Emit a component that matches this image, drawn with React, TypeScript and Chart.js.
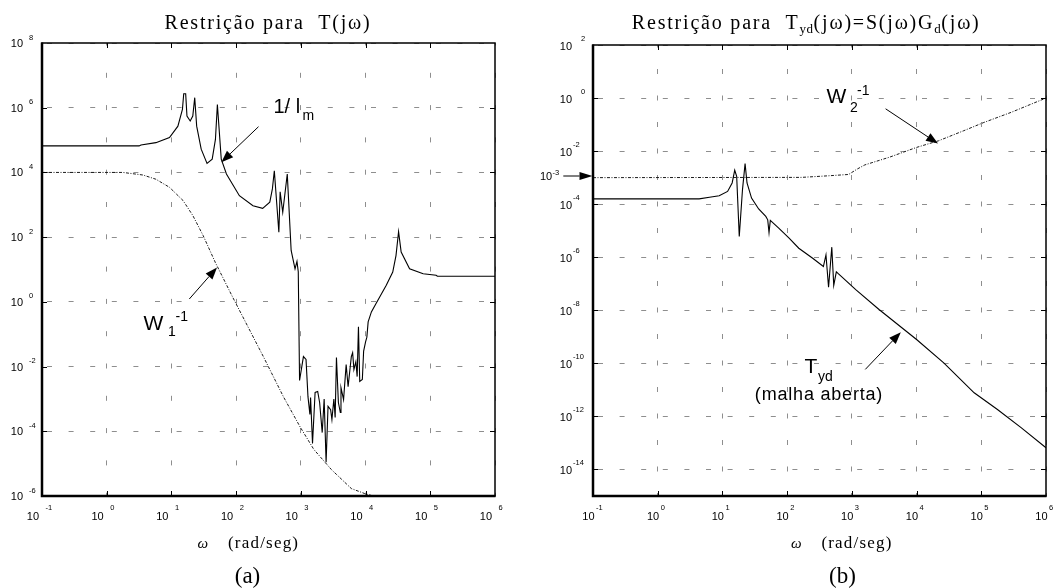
import React, { useEffect, useRef } from 'react';
import { Chart, registerables } from 'chart.js';

Chart.register(...registerables);

const SANS = '"Liberation Sans", Arial, sans-serif';
const SERIF = '"Liberation Serif", "Times New Roman", serif';
const GRID = '#8e8e8e';

// ---------- axis ticks ----------
const xTicks = [1e-1, 1e0, 1e1, 1e2, 1e3, 1e4, 1e5, 1e6];
const xTickExp = ['-1', '0', '1', '2', '3', '4', '5', '6'];
const yTicksA = [1e8, 1e6, 1e4, 1e2, 1e0, 1e-2, 1e-4, 1e-6];
const yTickExpA = ['8', '6', '4', '2', '0', '-2', '-4', '-6'];
const yTicksB = [1e2, 1e0, 1e-2, 1e-4, 1e-6, 1e-8, 1e-10, 1e-12, 1e-14];
const yTickExpB = ['2', '0', '-2', '-4', '-6', '-8', '-10', '-12', '-14'];

// ---------- (a) 1/l_m ----------
const imOmega = [0.1, 3.162, 3.388, 5.754, 9.333, 12.59, 14.79, 15.49, 16.6, 17.38, 19.5, 21.38, 22.91, 24.55, 28.84, 35.48, 42.66, 47.86, 51.29, 58.88, 70.79, 112.2, 182.0, 257.0, 331.1, 363.1, 389.0, 457.1, 478.6, 524.8, 616.6, 707.9, 812.8, 871.0, 912.0, 955.0, 1096, 1202, 1288, 1380, 1413, 1514, 1660, 1820, 1950, 2138, 2291, 2455, 2630, 2884, 3020, 3236, 3388, 3548, 3802, 4074, 4169, 4571, 5012, 5370, 6026, 6310, 6607, 7079, 7413, 7762, 8128, 8913, 9333, 1.0e4, 1.047e4, 1.096e4, 1.23e4, 1.445e4, 2.089e4, 2.63e4, 2.951e4, 3.236e4, 3.548e4, 4.786e4, 7.762e4, 1.23e5, 1.288e5, 1e6];
const imMag = [6.607e4, 6.607e4, 7.079e4, 8.318e4, 1.202e5, 2.692e5, 8.913e5, 2.692e6, 2.692e6, 5.495e5, 3.89e5, 5.495e5, 2.042e6, 2.692e5, 5.248e4, 1.905e4, 2.57e4, 1.047e5, 1.259e6, 2.57e4, 8.913e3, 1.905e3, 933.3, 776.2, 1202, 3090, 1.122e4, 141.3, 2512, 588.8, 8913, 38.9, 10.47, 17.78, 8.511, 3.715e-3, 2.042e-2, 1.66e-2, 1.175e-3, 3.311e-4, 1.096e-3, 4.169e-5, 1.585e-3, 1.698e-3, 7.762e-4, 9.12e-5, 1.0e-3, 1.096e-5, 5.888e-4, 4.677e-4, 2.291e-4, 1.0e-3, 2.692e-4, 1.905e-2, 7.762e-4, 3.802e-4, 2.239e-3, 9.55e-4, 1.148e-2, 2.399e-3, 2.042e-2, 2.692e-2, 8.128e-3, 1.413e-2, 4.898e-3, 0.1698, 3.467e-3, 3.981e-3, 3.02e-2, 5.754e-2, 8.128e-2, 0.2399, 0.4898, 0.871, 3.236, 8.318, 26.92, 147.9, 34.67, 10.47, 7.413, 6.607, 6.166, 6.166];

// ---------- (a) W1^-1 ----------
const w1Omega = [0.1, 1.778, 3.631, 5.754, 9.333, 15.14, 21.38, 30.9, 47.86, 89.13, 263.0, 537.0, 977.2, 1585, 2951, 6026, 9550, 1.318e4];
const w1Mag = [1e4, 1e4, 8.318e3, 6.166e3, 3.467e3, 1.349e3, 467.7, 112.2, 16.22, 1.349, 2.042e-2, 1.175e-3, 1.349e-4, 2.754e-5, 6.607e-6, 1.698e-6, 1.202e-6, 1.0e-6];

// ---------- (b) T_yd (malha aberta) ----------
const tydOmega = [0.1, 4.365, 6.31, 8.913, 12.02, 14.13, 15.49, 16.6, 18.2, 20.42, 22.39, 23.99, 28.18, 36.31, 46.77, 50.12, 52.48, 54.95, 74.13, 107.2, 151.4, 251.2, 363.1, 398.1, 436.5, 489.8, 524.8, 575.4, 616.6, 1148, 2630, 1e4, 2.63e4, 7.762e4, 1.778e5, 4.169e5, 1e6];
const tydMag = [1.585e-4, 1.585e-4, 1.82e-4, 2.089e-4, 3.02e-4, 6.31e-4, 1.905e-3, 1.122e-3, 6.026e-6, 3.548e-4, 3.388e-3, 6.31e-4, 1.698e-4, 6.607e-5, 3.467e-5, 2.57e-5, 8.511e-6, 2.455e-5, 1.259e-5, 5.248e-6, 2.188e-6, 8.913e-7, 4.467e-7, 1.23e-6, 7.413e-8, 2.399e-6, 8.71e-8, 2.818e-7, 2.399e-7, 6.026e-8, 1.072e-8, 7.943e-10, 1.047e-10, 7.762e-12, 1.82e-12, 3.715e-13, 6.607e-14];

// ---------- (b) W2^-1 ----------
const w2Omega = [0.1, 166.0, 436.5, 891.3, 1202, 1585, 3802, 1e4, 2.188e4, 5.37e4, 1.096e5, 2.884e5, 1e6];
const w2Mag = [1e-3, 1.023e-3, 1.175e-3, 1.318e-3, 2.089e-3, 3.020e-3, 5.888e-3, 1.38e-2, 2.455e-2, 5.888e-2, 0.1202, 0.2884, 1.0];

type Part = { t: string; size: number; fam?: string; dy?: number; ls?: number; style?: string };

function setFont(ctx: any, p: Part) {
  ctx.font = `${p.style ? p.style + ' ' : ''}${p.size}px ${p.fam || SANS}`;
  ctx.letterSpacing = `${p.ls || 0}px`;
}

function drawParts(ctx: any, parts: Part[], x: number, y: number, align: string = 'left') {
  let total = 0;
  const widths = parts.map((p) => {
    setFont(ctx, p);
    const w = ctx.measureText(p.t).width;
    total += w;
    return w;
  });
  let cx = align === 'left' ? x : align === 'center' ? x - total / 2 : x - total;
  ctx.textAlign = 'left';
  ctx.textBaseline = 'alphabetic';
  ctx.fillStyle = '#000';
  parts.forEach((p, i) => {
    setFont(ctx, p);
    ctx.fillText(p.t, cx, y + (p.dy || 0));
    cx += widths[i];
  });
  ctx.letterSpacing = '0px';
}

function drawArrow(ctx: any, x1: number, y1: number, x2: number, y2: number, len = 12, half = 4.5) {
  const ang = Math.atan2(y2 - y1, x2 - x1);
  const bx = x2 - len * Math.cos(ang);
  const by = y2 - len * Math.sin(ang);
  ctx.strokeStyle = '#000';
  ctx.lineWidth = 1;
  ctx.setLineDash([]);
  ctx.beginPath();
  ctx.moveTo(x1, y1);
  ctx.lineTo(bx, by);
  ctx.stroke();
  ctx.beginPath();
  ctx.moveTo(x2, y2);
  ctx.lineTo(bx + half * Math.sin(ang), by - half * Math.cos(ang));
  ctx.lineTo(bx - half * Math.sin(ang), by + half * Math.cos(ang));
  ctx.closePath();
  ctx.fillStyle = '#000';
  ctx.fill();
}

function drawFrame(chart: any, yTicks: number[]) {
  const ctx = chart.ctx;
  const { left, right, top, bottom } = chart.chartArea;
  const xs = chart.scales.x;
  const ys = chart.scales.y;
  ctx.save();
  ctx.setLineDash([]);
  ctx.strokeStyle = '#000';
  ctx.lineWidth = 1;
  xTicks.slice(1, -1).forEach((v) => {
    const px = Math.round(xs.getPixelForValue(v)) + 0.5;
    ctx.beginPath();
    ctx.moveTo(px, bottom);
    ctx.lineTo(px, bottom - 5);
    ctx.moveTo(px, top);
    ctx.lineTo(px, top + 5);
    ctx.stroke();
  });
  yTicks.forEach((v) => {
    const py = Math.round(ys.getPixelForValue(v)) + 0.5;
    if (py <= top + 1 || py >= bottom - 1) return;
    ctx.beginPath();
    ctx.moveTo(left, py);
    ctx.lineTo(left + 5, py);
    ctx.moveTo(right, py);
    ctx.lineTo(right - 5, py);
    ctx.stroke();
  });
  ctx.lineWidth = 1.5;
  ctx.strokeRect(left, top, right - left, bottom - top);
  ctx.lineWidth = 2.5;
  ctx.beginPath();
  ctx.moveTo(left, top - 0.5);
  ctx.lineTo(left, bottom);
  ctx.lineTo(right + 0.5, bottom);
  ctx.stroke();
  ctx.restore();
}

function drawA(chart: any) {
  const ctx = chart.ctx;
  const xs = chart.scales.x;
  const ys = chart.scales.y;
  drawFrame(chart, yTicksA);
  ctx.save();
  xTicks.forEach((v, i) => {
    const px = xs.getPixelForValue(v);
    drawParts(ctx, [{ t: '10', size: 11 }], px - 3, 519.5, 'right');
    drawParts(ctx, [{ t: xTickExp[i], size: 7.5 }], px + 3.5, 510);
  });
  yTicksA.forEach((v, i) => {
    const py = ys.getPixelForValue(v);
    drawParts(ctx, [{ t: '10', size: 11 }], 23, py + 4, 'right');
    drawParts(ctx, [{ t: yTickExpA[i], size: 7.5 }], 29, py - 3.5);
  });
  drawParts(ctx, [{ t: 'Restrição para  T(jω)', size: 20, fam: SERIF, ls: 1.8 }], 268, 28.5, 'center');
  drawParts(ctx, [{ t: 'ω', size: 15, fam: SERIF, style: 'italic' }], 197.5, 548);
  drawParts(ctx, [{ t: '(rad/seg)', size: 17, fam: SERIF, ls: 1.2 }], 228, 548);
  drawParts(ctx, [{ t: '(a)', size: 23, fam: SERIF }], 247.5, 583, 'center');
  // 1/ l_m
  drawParts(ctx, [{ t: '1/ l', size: 20 }], 273.5, 113);
  drawParts(ctx, [{ t: 'm', size: 14 }], 302.5, 120);
  drawArrow(ctx, 258.5, 126.7, 221.4, 162.2);
  // W1^-1
  drawParts(ctx, [{ t: 'W', size: 21 }], 143.5, 330);
  drawParts(ctx, [{ t: '1', size: 14 }], 168, 335.5);
  drawParts(ctx, [{ t: '-1', size: 14 }], 175.5, 320.5);
  drawArrow(ctx, 189.3, 299, 217, 267.5);
  ctx.restore();
}

function drawB(chart: any) {
  const ctx = chart.ctx;
  const xs = chart.scales.x;
  const ys = chart.scales.y;
  drawFrame(chart, yTicksB);
  ctx.save();
  xTicks.forEach((v, i) => {
    const px = xs.getPixelForValue(v);
    drawParts(ctx, [{ t: '10', size: 11 }], px + 1.5, 520, 'right');
    drawParts(ctx, [{ t: xTickExp[i], size: 7.5 }], px + 3, 509.5);
  });
  yTicksB.forEach((v, i) => {
    const py = ys.getPixelForValue(v);
    drawParts(ctx, [{ t: '10', size: 11 }], 45, py + 5, 'right');
    const neg = yTickExpB[i].startsWith('-');
    drawParts(ctx, [{ t: yTickExpB[i], size: 7.5 }], neg ? 46 : 54, py - 4);
  });
  drawParts(
    ctx,
    [
      { t: 'Restrição para  T', size: 20, fam: SERIF, ls: 1.8 },
      { t: 'yd', size: 13, fam: SERIF, dy: 4.5, ls: 0.5 },
      { t: '(jω)=S(jω)G', size: 20, fam: SERIF, ls: 1.8 },
      { t: 'd', size: 13, fam: SERIF, dy: 4.5, ls: 0.5 },
      { t: '(jω)', size: 20, fam: SERIF, ls: 1.8 },
    ],
    279.2,
    28.5,
    'center'
  );
  drawParts(ctx, [{ t: 'ω', size: 15, fam: SERIF, style: 'italic' }], 264, 548);
  drawParts(ctx, [{ t: '(rad/seg)', size: 17, fam: SERIF, ls: 1.2 }], 294.4, 548);
  drawParts(ctx, [{ t: '(b)', size: 23, fam: SERIF }], 315.5, 583, 'center');
  // W2^-1
  drawParts(ctx, [{ t: 'W', size: 21 }], 299.5, 103);
  drawParts(ctx, [{ t: '2', size: 14 }], 323, 111.5);
  drawParts(ctx, [{ t: '-1', size: 14 }], 330, 95);
  drawArrow(ctx, 358.6, 108.8, 411, 143.6);
  // T_yd (malha aberta)
  drawParts(ctx, [{ t: 'T', size: 21 }], 277.5, 372.8);
  drawParts(ctx, [{ t: 'yd', size: 14 }], 291, 381);
  drawParts(ctx, [{ t: '(malha aberta)', size: 18, ls: 0.8 }], 292, 400, 'center');
  drawArrow(ctx, 338.3, 369.4, 373.8, 332.2);
  // 10^-3 marker
  drawParts(ctx, [{ t: '10', size: 11 }], 13, 180);
  drawParts(ctx, [{ t: '-3', size: 7.5 }], 25.5, 174.5);
  drawArrow(ctx, 36.3, 176, 65.5, 176, 13, 4);
  ctx.restore();
}

function pts(xs: number[], ys: number[]) {
  return xs.map((x, i) => ({ x, y: ys[i] }));
}

function makeConfig(opts: any) {
  return {
    type: 'scatter',
    data: {
      datasets: [
        {
          data: pts(opts.solidX, opts.solidY),
          showLine: true,
          borderColor: '#000',
          borderWidth: 1.1,
          pointRadius: 0,
          tension: 0,
          fill: false,
        },
        {
          data: pts(opts.dashX, opts.dashY),
          showLine: true,
          borderColor: '#1a1a1a',
          borderWidth: 1,
          borderDash: [3, 1.5, 1, 1.5],
          pointRadius: 0,
          tension: 0,
          fill: false,
        },
      ],
    },
    options: {
      responsive: false,
      animation: false,
      devicePixelRatio: 1,
      events: [],
      layout: { padding: opts.padding },
      plugins: { legend: { display: false }, tooltip: { enabled: false }, title: { display: false } },
      scales: {
        x: {
          type: 'logarithmic',
          min: 0.1,
          max: 1e6,
          afterBuildTicks: (ax: any) => {
            ax.ticks = xTicks.map((v) => ({ value: v }));
          },
          ticks: { display: false },
          grid: { color: GRID, lineWidth: 1, drawTicks: false },
          border: { display: false, dash: [5, opts.vGap], dashOffset: 2.5 },
        },
        y: {
          type: 'logarithmic',
          min: opts.yMin,
          max: opts.yMax,
          afterBuildTicks: (ax: any) => {
            ax.ticks = opts.yTicks.map((v: number) => ({ value: v }));
          },
          ticks: { display: false },
          grid: { color: GRID, lineWidth: 1, drawTicks: false },
          border: { display: false, dash: [5, 16.6], dashOffset: -5 },
        },
      },
    },
    plugins: [{ id: 'decor', afterDraw: opts.draw }],
  };
}

export default function App() {
  const refA = useRef<HTMLCanvasElement>(null);
  const refB = useRef<HTMLCanvasElement>(null);

  useEffect(() => {
    const a = new Chart(
      refA.current as any,
      makeConfig({
        solidX: imOmega,
        solidY: imMag,
        dashX: w1Omega,
        dashY: w1Mag,
        yMin: 1e-6,
        yMax: 1e8,
        yTicks: yTicksA,
        vGap: 27.3,
        padding: { left: 42, right: 32, top: 43, bottom: 92 },
        draw: drawA,
      }) as any
    );
    const b = new Chart(
      refB.current as any,
      makeConfig({
        solidX: tydOmega,
        solidY: tydMag,
        dashX: w2Omega,
        dashY: w2Mag,
        yMin: 1e-15,
        yMax: 1e2,
        yTicks: yTicksB,
        vGap: 21.5,
        padding: { left: 66, right: 8, top: 45, bottom: 92 },
        draw: drawB,
      }) as any
    );
    return () => {
      a.destroy();
      b.destroy();
    };
  }, []);

  return (
    <div style={{ position: 'fixed', left: 0, top: 0, width: 1054, height: 588, background: '#fff' }}>
      <canvas ref={refA} width={527} height={588} style={{ position: 'absolute', left: 0, top: 0, width: 527, height: 588 }} />
      <canvas ref={refB} width={527} height={588} style={{ position: 'absolute', left: 527, top: 0, width: 527, height: 588 }} />
    </div>
  );
}
